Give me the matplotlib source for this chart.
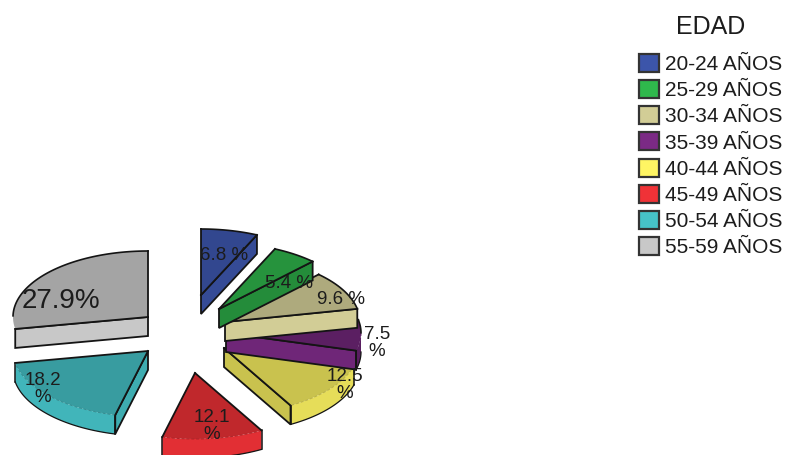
import numpy as np
import matplotlib
matplotlib.use("Agg")
import matplotlib.pyplot as plt
from matplotlib.colors import to_rgb
from matplotlib.patches import Patch, Polygon

categories = ["20-24 AÑOS", "25-29 AÑOS", "30-34 AÑOS", "35-39 AÑOS",
              "40-44 AÑOS", "45-49 AÑOS", "50-54 AÑOS", "55-59 AÑOS"]
values = [6.8, 5.4, 9.6, 7.5, 12.5, 12.1, 18.2, 27.9]
value_labels = ["6.8 %", "5.4 %", "9.6 %", "7.5\n%", "12.5\n%", "12.1\n%", "18.2\n%", "27.9%"]
legend_title = "EDAD"

base_colors = ["#3c55aa", "#2fb84c", "#d2cd96", "#7b2a85",
               "#fff563", "#f03237", "#46c3c8", "#c8c8c8"]

# layout, in pixels of the 788x455 picture
RX, RY, DEPTH = 135, 66, 19
apex = [(201, 295), (219, 309), (225, 322), (226, 333),
        (224, 348), (195, 373), (148, 351), (148, 317)]
label_pos = [(224, 255), (289, 284), (341, 300), (377, 343),
             (345, 385), (212, 426), (43, 389), (61, 301)]
label_size = [13.5, 13.5, 13.5, 13.5, 13.5, 13.5, 13.5, 20]
draw_order = [4, 3, 2, 1, 0, 5, 6, 7]
top_shade = [.84, .80, .83, .74, .79, .80, .80, .82]
cut_shade = [.88, .76, 1.0, .90, .79, .80, .88, 1.0]
rim_shade = [.93, .93, .93, .72, .90, .94, .93, .95]
MIN_RIM = np.radians(12)
INK = "#141414"

fig = plt.figure(figsize=(7.88, 4.55), dpi=100)
ax = fig.add_axes([0, 0, 1, 1])
ax.set_xlim(0, 788)
ax.set_ylim(455, 0)
ax.axis("off")
plt.rcParams["font.family"] = ["Liberation Sans", "DejaVu Sans"]


def shade(c, f):
    return tuple(min(1, x * f) for x in to_rgb(c))


def rim_point(a, theta):
    return a[0] + RX * np.sin(theta), a[1] - RY * np.cos(theta)


edges = np.radians(np.concatenate([[0], np.cumsum(values)]) / sum(values) * 360)

for order, i in enumerate(draw_order):
    a, t1, t2 = apex[i], edges[i], edges[i + 1]
    col = base_colors[i]
    th = np.linspace(t1, t2, 80)
    x, y = rim_point(a, th)
    z = 2 + order

    # outer wall
    lo, hi = max(t1, np.pi / 2), min(t2, 3 * np.pi / 2)
    if hi - lo > MIN_RIM:
        tr = np.linspace(lo, hi, 60)
        rx, ry = rim_point(a, tr)
        wall = np.r_[np.c_[rx, ry], np.c_[rx, ry + DEPTH][::-1]]
        ax.add_patch(Polygon(wall, closed=True, fc=shade(col, rim_shade[i]), ec="none", zorder=z))
        ax.plot(rx, ry + DEPTH, color=INK, lw=.9, zorder=z)
        ax.plot(rx, ry, color=shade(col, .72), lw=.7, ls=(0, (3, 2)), zorder=z + .2)
        for t in (lo, hi):
            if t in (t1, t2):
                px, py = rim_point(a, t)
                ax.plot([px, px], [py, py + DEPTH], color=INK, lw=1.1, zorder=z + .1)

    # cut faces that look at the viewer
    for t, show in ((t1, np.sin(t1) < -1e-6), (t2, np.sin(t2) > 1e-6)):
        if show:
            px, py = rim_point(a, t)
            ax.add_patch(Polygon([a, (px, py), (px, py + DEPTH), (a[0], a[1] + DEPTH)],
                                 closed=True, fc=shade(col, cut_shade[i]), ec=INK, lw=1.3, zorder=z))

    # top face
    top = np.r_[[a], np.c_[x, y]]
    ax.add_patch(Polygon(top, closed=True, fc=shade(col, top_shade[i]), ec="none", zorder=z + .1))
    back = np.cos(th) >= 0
    if back.any():
        ax.plot(x[back], y[back], color=INK, lw=1.2, zorder=z + .3)
    for t in (t1, t2):
        px, py = rim_point(a, t)
        ax.plot([a[0], px], [a[1], py], color=INK, lw=1.3, zorder=z + .3)

for txt, (lx, ly), fs in zip(value_labels, label_pos, label_size):
    ax.text(lx, ly, txt, ha="center", va="center", fontsize=fs, color="#1c1c1c",
            linespacing=.95, zorder=30)

handles = [Patch(facecolor=c, edgecolor="#333333", lw=1.6) for c in base_colors]
leg = ax.legend(handles, categories, title=legend_title, loc="upper left",
                bbox_to_anchor=(639 / 788, 1 - 15 / 455), frameon=False,
                fontsize=15, title_fontsize=18, borderpad=0, borderaxespad=0,
                handlelength=.96, handleheight=.95, handletextpad=.3, labelspacing=.29,
                labelcolor="#1c1c1c")
leg.get_title().set_color("#1c1c1c")
leg._legend_box.sep = 10.7
fig.savefig("out.png", dpi=100)
